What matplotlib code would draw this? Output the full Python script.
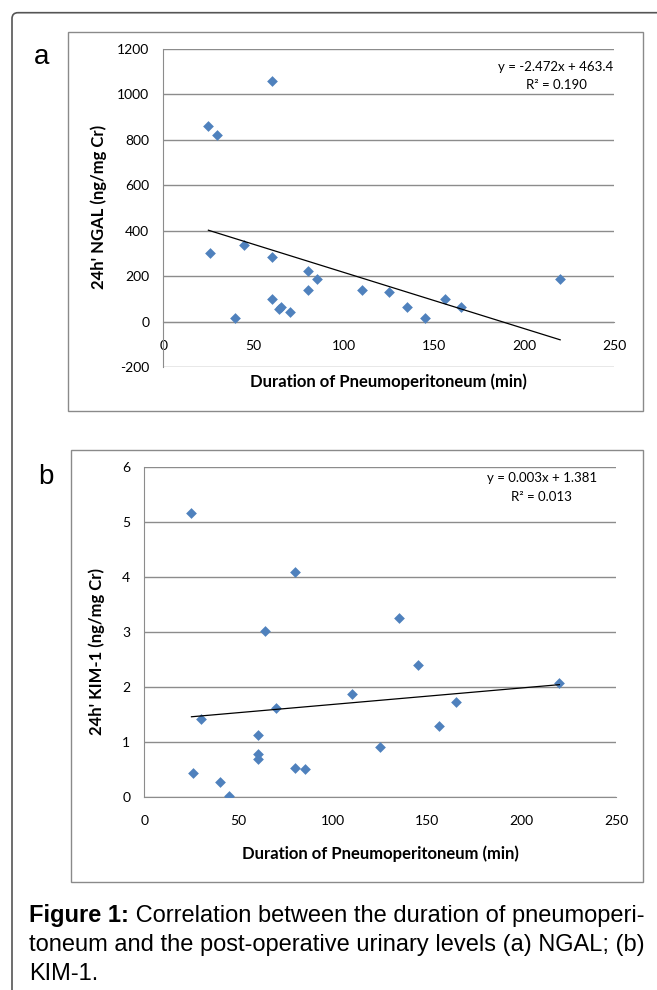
import matplotlib
matplotlib.use("Agg")
import matplotlib.pyplot as plt
from matplotlib.patches import Rectangle, FancyBboxPatch
import numpy as np

plt.rcParams['axes.unicode_minus'] = False
plt.rcParams['font.family'] = ['Lato', 'DejaVu Sans']

# Data
ngal_duration = [25, 30, 60, 26, 45, 60, 60, 40, 64, 65, 70, 80, 80, 85,
                 110, 125, 135, 145, 156, 165, 220]
ngal = [860, 820, 1058, 300, 337, 286, 100, 15, 54, 63, 43, 221, 137, 185,
        138, 131, 62, 14, 101, 66, 187]
ngal_fit = (-2.472, 463.4)
ngal_r2 = 0.190

kim_duration = [25, 26, 30, 40, 45, 60, 60, 60, 64, 70, 80, 80, 85,
                110, 125, 135, 145, 156, 165, 220]
kim1 = [5.17, 0.44, 1.42, 0.26, 0.02, 1.12, 0.77, 0.68, 3.01, 1.62, 4.085,
        0.52, 0.50, 1.87, 0.90, 3.25, 2.39, 1.29, 1.72, 2.07]
kim_fit = (0.003, 1.381)
kim_r2 = 0.013

x_ticks = [0, 50, 100, 150, 200, 250]
ngal_ticks = [-200, 0, 200, 400, 600, 800, 1000, 1200]
kim_ticks = [0, 1, 2, 3, 4, 5, 6]

W, H = 657, 990
fig = plt.figure(figsize=(W / 100, H / 100), dpi=100)

# overlay in pixel coordinates for frames and caption
ax0 = fig.add_axes([0, 0, 1, 1])
ax0.set_xlim(0, W)
ax0.set_ylim(H, 0)
ax0.axis('off')

grid_col = '#8c8c8c'
blue = '#4F81BD'


def px_axes(left, top, right, bottom):
    return [left / W, (H - bottom) / H, (right - left) / W, (bottom - top) / H]


def panel(rect, xs, ys, fit, r2, yticks, ylabel, eq_xy, ylab_xy, xlab_xy):
    ax = fig.add_axes(px_axes(*rect))
    ax.set_xlim(0, 250)
    ax.set_ylim(yticks[0], yticks[-1])
    ax.set_xticks(x_ticks)
    ax.set_yticks(yticks)
    ax.set_facecolor('none')
    for s in ['top', 'right']:
        ax.spines[s].set_visible(False)
    ax.spines['left'].set_color(grid_col)
    ax.spines['bottom'].set_color(grid_col)
    ax.spines['bottom'].set_position(('data', 0))
    ax.yaxis.grid(True, color=grid_col, linewidth=1.0)
    ax.set_axisbelow(True)
    ax.tick_params(axis='y', length=0, pad=10, labelsize=10)
    ax.tick_params(axis='x', length=0, pad=13, labelsize=10)

    ax.scatter(xs, ys, marker='D', s=30, color=blue, zorder=3, linewidths=0)
    xr = np.array([min(xs), max(xs)])
    ax.plot(xr, fit[0] * xr + fit[1], color='black', linewidth=0.9, zorder=4)

    sign = '-' if fit[0] < 0 else ''
    eq = f'y = {sign}{abs(fit[0]):.3f}x + {fit[1]}'
    ax0.text(eq_xy[0], eq_xy[1], eq, ha='center', va='center', fontsize=9.5)
    ax0.text(eq_xy[0], eq_xy[1] + 18.5, f'R² = {r2:.3f}', ha='center',
             va='center', fontsize=9.5)

    ax.set_ylabel(ylabel, fontsize=12, fontweight='bold')
    ax.yaxis.set_label_coords(ylab_xy[0], ylab_xy[1], transform=ax0.transData)
    ax.set_xlabel('Duration of Pneumoperitoneum (min)', fontsize=12,
                  fontweight='bold')
    ax.xaxis.set_label_coords(xlab_xy[0], xlab_xy[1], transform=ax0.transData)
    ax.xaxis.label.set_va('center')
    ax.yaxis.label.set_va('center')
    return ax


panel((163.3, 48.7, 614.3, 367), ngal_duration, ngal, ngal_fit, ngal_r2,
      ngal_ticks, "24h' NGAL (ng/mg Cr)", (556, 66.7), (98.8, 207),
      (388.8, 381.7))
panel((144.3, 467.3, 616, 796.7), kim_duration, kim1, kim_fit, kim_r2,
      kim_ticks, "24h' KIM-1 (ng/mg Cr)", (541.7, 478.3), (97, 651.7),
      (380.2, 853.3))

# panel frames
for (l, t, r, b) in [(67.7, 31.7, 642.7, 410.7), (70.7, 450, 643.3, 882)]:
    ax0.add_patch(Rectangle((l, t), r - l, b - t, fill=False,
                            edgecolor='#8a8a8a', linewidth=1.0))

# outer frame (rounded top-left corner, runs off right and bottom)
ax0.add_patch(FancyBboxPatch((12, 12.7), 700, 1000,
                             boxstyle='round,pad=0,rounding_size=6',
                             fill=False, edgecolor='#555555', linewidth=1.2))

ax0.text(42, 57, 'a', ha='center', va='center', fontsize=20,
         family='Liberation Sans')
ax0.text(46, 477, 'b', ha='center', va='center', fontsize=20,
         family='Liberation Sans')

# caption
cap_font = dict(fontsize=17, family='Liberation Sans')
t1 = ax0.text(29, 922, 'Figure 1:', fontweight='bold', va='baseline',
              **cap_font)
ax0.annotate(' Correlation between the duration of pneumoperi-',
             xy=(1, 0), xycoords=t1, ha='left', va='bottom', **cap_font)
ax0.text(29, 951, 'toneum and the post-operative urinary levels (a) NGAL; (b)',
         va='baseline', **cap_font)
ax0.text(29, 980, 'KIM-1.', va='baseline', **cap_font)

fig.savefig('out.png', dpi=100)
